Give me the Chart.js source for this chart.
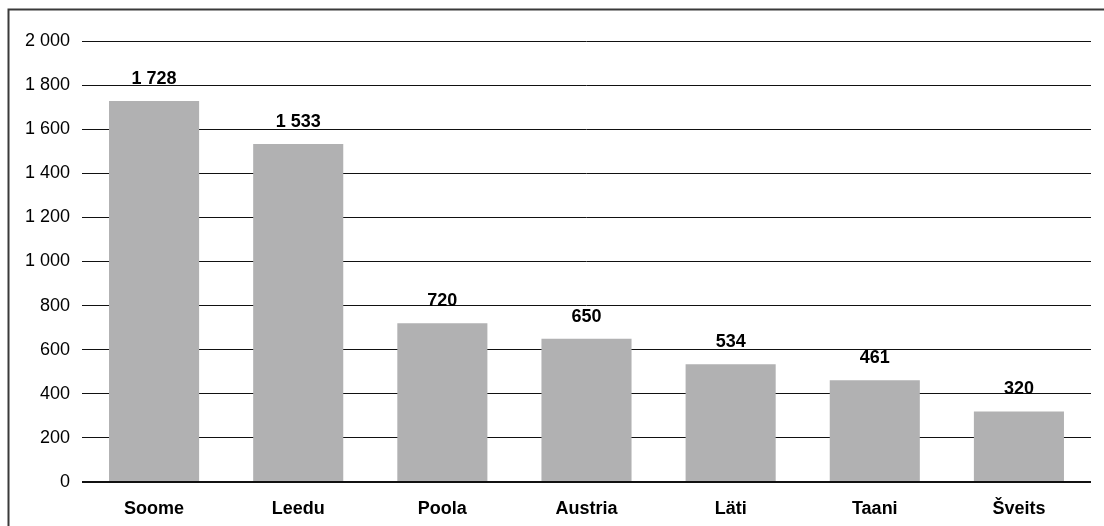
<!DOCTYPE html>
<html>
<head>
<meta charset="utf-8">
<script src="https://cdn.jsdelivr.net/npm/chart.js@4/dist/chart.umd.min.js"></script>
<style>
  body { margin: 0; background: #fff; }
  canvas { display: block; }
</style>
</head>
<body>
<canvas id="chartCanvas" width="1104" height="526"></canvas>
<script>
const countries = ['Soome', 'Leedu', 'Poola', 'Austria', 'Läti', 'Taani', 'Šveits'];
const values = [1728, 1533, 720, 650, 534, 461, 320];
const yTicks = [0, 200, 400, 600, 800, 1000, 1200, 1400, 1600, 1800, 2000];

const fontFamily = '"Liberation Sans", Arial, sans-serif';

function fmt(n) {
  return String(n).replace(/\B(?=(\d{3})+(?!\d))/g, ' ');
}

// labels above bars + outer frame
const extras = {
  id: 'extras',
  afterDatasetsDraw(chart) {
    const ctx = chart.ctx;
    const meta = chart.getDatasetMeta(0);
    ctx.save();
    ctx.fillStyle = '#000';
    ctx.font = 'bold 18px ' + fontFamily;
    ctx.textAlign = 'center';
    ctx.textBaseline = 'alphabetic';
    meta.data.forEach((bar, i) => {
      ctx.fillText(fmt(values[i]), bar.x, bar.y - 17);
    });
    ctx.restore();
  },
  afterDraw(chart) {
    const ctx = chart.ctx;
    ctx.save();
    ctx.strokeStyle = '#3a3a3a';
    ctx.lineWidth = 2;
    ctx.beginPath();
    ctx.moveTo(8.5, 526);
    ctx.lineTo(8.5, 9.5);
    ctx.lineTo(1104, 9.5);
    ctx.stroke();
    ctx.restore();
  }
};

new Chart(document.getElementById('chartCanvas').getContext('2d'), {
  type: 'bar',
  data: {
    labels: countries,
    datasets: [{
      data: values,
      backgroundColor: '#b1b1b2',
      barPercentage: 0.625,
      categoryPercentage: 1
    }]
  },
  options: {
    responsive: false,
    animation: false,
    layout: { padding: { top: 41, right: 13, left: 0, bottom: 0 } },
    plugins: {
      legend: { display: false },
      tooltip: { enabled: false }
    },
    scales: {
      x: {
        grid: { display: false, drawTicks: false },
        border: { display: false },
        ticks: {
          color: '#000',
          padding: 16,
          font: { family: fontFamily, size: 18, weight: 'bold' }
        },
        afterFit(scale) { scale.height = 44; }
      },
      y: {
        min: 0,
        max: 2000,
        afterBuildTicks(scale) { scale.ticks = yTicks.map(v => ({ value: v })); },
        grid: {
          drawTicks: false,
          color: '#111',
          lineWidth: ctx => ctx.tick && ctx.tick.value === 0 ? 2 : 1
        },
        border: { display: false },
        ticks: {
          color: '#000',
          padding: 12,
          font: { family: fontFamily, size: 18 },
          callback: v => fmt(v)
        },
        afterFit(scale) { scale.width = 82; }
      }
    }
  },
  plugins: [extras]
});
</script>
</body>
</html>
